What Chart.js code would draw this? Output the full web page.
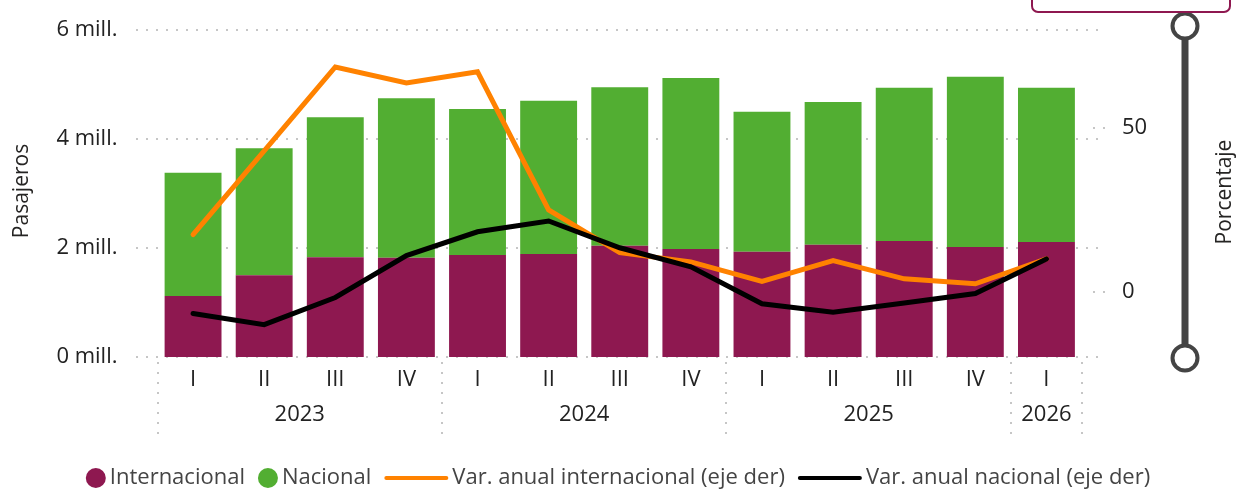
<!DOCTYPE html>
<html><head><meta charset="utf-8">
<script src="https://cdn.jsdelivr.net/npm/chart.js@4.4.1/dist/chart.umd.min.js"></script>
<style>html,body{margin:0;padding:0;background:#fff;overflow:hidden}</style>
</head><body>
<canvas id="c" width="1236" height="490"></canvas>
<script>
// ---- data ----
const quarters = ['I','II','III','IV','I','II','III','IV','I','II','III','IV','I'];
const years    = ['2023','2023','2023','2023','2024','2024','2024','2024','2025','2025','2025','2025','2026'];
const internacional = [1.12,1.50,1.83,1.82,1.87,1.89,2.04,1.98,1.93,2.06,2.13,2.02,2.11]; // millones
const nacional      = [2.26,2.33,2.57,2.93,2.68,2.81,2.91,3.14,2.57,2.62,2.81,3.12,2.83]; // millones
const varInternacional = [17.4,43.0,68.7,63.8,67.2,25.0,11.9,9.1,3.1,9.5,3.9,2.4,10.0];
const varNacional      = [-6.7,-10.1,-1.8,11.0,18.3,21.6,13.4,7.6,-3.7,-6.3,-3.5,-0.6,10.0];
const leftTicks  = [0,2,4,6];
const rightTicks = [0,50];
const seriesNames = ['Internacional','Nacional','Var. anual internacional (eje der)','Var. anual nacional (eje der)'];
const leftTitle = 'Pasajeros';
const rightTitle = 'Porcentaje';

const FONT = '"Open Sans", "Noto Sans", sans-serif';
const C_INT = '#8E1850', C_NAC = '#52AE32', C_OR = '#FF8200', C_BL = '#000000';
Chart.defaults.font.family = FONT;

const decor = {
  id: 'decor',
  beforeDatasetsDraw(chart) {
    const {ctx, chartArea: a, scales: {x, y, y2}} = chart;
    ctx.save();
    ctx.strokeStyle = '#c6c6c6'; ctx.lineWidth = 2; ctx.setLineDash([2, 8]);
    leftTicks.forEach(v => {
      const py = Math.round(y.getPixelForValue(v));
      ctx.beginPath(); ctx.moveTo(136, py); ctx.lineTo(1100, py); ctx.stroke();
    });
    rightTicks.forEach(v => {
      const py = Math.round(y2.getPixelForValue(v));
      ctx.beginPath(); ctx.moveTo(a.right + 11, py); ctx.lineTo(a.right + 24, py); ctx.stroke();
    });
    // vertical separators between years
    const bx = [x.left];
    for (let i = 1; i < years.length; i++) {
      if (years[i] !== years[i-1]) bx.push((x.getPixelForValue(i-1) + x.getPixelForValue(i)) / 2);
    }
    bx.push(x.right);
    bx.forEach(px => {
      ctx.beginPath(); ctx.moveTo(Math.round(px), a.bottom + 5); ctx.lineTo(Math.round(px), a.bottom + 80); ctx.stroke();
    });
    ctx.restore();
  },
  afterDraw(chart) {
    const {ctx, chartArea: a, scales: {x}} = chart;
    ctx.save();
    // year labels
    ctx.fillStyle = '#222'; ctx.font = '22px ' + FONT; ctx.textAlign = 'center'; ctx.textBaseline = 'middle';
    let start = 0;
    for (let i = 1; i <= years.length; i++) {
      if (i === years.length || years[i] !== years[start]) {
        const cx = (x.getPixelForValue(start) + x.getPixelForValue(i-1)) / 2;
        ctx.fillText(years[start], cx, 415);
        start = i;
      }
    }
    // axis titles
    ctx.fillStyle = '#252423'; ctx.font = '21px ' + FONT;
    ctx.save(); ctx.translate(22, 191); ctx.rotate(-Math.PI/2); ctx.fillText(leftTitle, 0, 0); ctx.restore();
    ctx.save(); ctx.translate(1225, 192); ctx.rotate(-Math.PI/2); ctx.fillText(rightTitle, 0, 0); ctx.restore();
    // legend
    ctx.font = '22px ' + FONT; ctx.textAlign = 'left'; ctx.textBaseline = 'middle';
    const items = chart.data.datasets.map(d => ({label: d.label, color: d.type === 'line' ? d.borderColor : d.backgroundColor, line: d.type === 'line'}));
    const gap = 13, tg = 4;
    let total = 0;
    items.forEach((it, i) => { it.w = ctx.measureText(it.label).width; it.mw = it.line ? 64 : 20; total += it.mw + tg + it.w + (i ? gap : 0); });
    let lx = (1236 - total) / 2; const ly = 478;
    items.forEach((it, i) => {
      if (i) lx += gap;
      if (it.line) {
        ctx.strokeStyle = it.color; ctx.lineWidth = 4; ctx.lineCap = 'round';
        ctx.beginPath(); ctx.moveTo(lx + 2, ly); ctx.lineTo(lx + it.mw - 2, ly); ctx.stroke();
      } else {
        ctx.fillStyle = it.color; ctx.beginPath(); ctx.arc(lx + 10, ly, 10, 0, Math.PI*2); ctx.fill();
      }
      lx += it.mw + tg;
      ctx.fillStyle = '#444'; ctx.fillText(it.label, lx, ly);
      lx += it.w;
    });
    // slider at right
    ctx.strokeStyle = '#444'; ctx.lineWidth = 7; ctx.lineCap = 'butt';
    ctx.beginPath(); ctx.moveTo(1185, 30); ctx.lineTo(1185, 354); ctx.stroke();
    [26, 358].forEach(cy => {
      ctx.beginPath(); ctx.arc(1185, cy, 12.5, 0, Math.PI*2);
      ctx.fillStyle = '#fff'; ctx.fill(); ctx.lineWidth = 4; ctx.stroke();
    });
    // framed box at top right (partially visible)
    ctx.strokeStyle = C_INT; ctx.lineWidth = 2;
    ctx.beginPath(); ctx.roundRect(1032, -20, 198, 32, 6); ctx.stroke();
    ctx.restore();
  }
};

new Chart(document.getElementById('c'), {
  data: {
    labels: quarters,
    datasets: [
      {type:'bar', label: seriesNames[0], data: internacional, backgroundColor: C_INT, yAxisID:'y', order: 2, categoryPercentage: 1, barPercentage: 0.8},
      {type:'bar', label: seriesNames[1], data: nacional, backgroundColor: C_NAC, yAxisID:'y', order: 2, categoryPercentage: 1, barPercentage: 0.8},
      {type:'line', label: seriesNames[2], data: varInternacional, borderColor: C_OR, backgroundColor: C_OR, borderWidth: 5, pointRadius: 0, yAxisID:'y2', order: 1, borderCapStyle:'round', borderJoinStyle:'miter', tension: 0},
      {type:'line', label: seriesNames[3], data: varNacional, borderColor: C_BL, backgroundColor: C_BL, borderWidth: 5, pointRadius: 0, yAxisID:'y2', order: 0, borderCapStyle:'round', borderJoinStyle:'miter', tension: 0}
    ]
  },
  options: {
    responsive: false, animation: false, devicePixelRatio: 1,
    layout: {padding: {top: 30, left: 0, right: 0, bottom: 0}},
    plugins: {legend: {display: false}, tooltip: {enabled: false}},
    scales: {
      x: {type:'category', stacked: true, offset: true,
          grid: {display: false, drawTicks: false}, border: {display: false},
          ticks: {color:'#222', font:{size:22}, padding: 10, maxRotation: 0, autoSkip: false},
          afterFit(s) { s.height = 133; s.paddingLeft = 0; s.paddingRight = 0; }},
      y: {position:'left', stacked: true, min: 0, max: 6,
          afterBuildTicks(s) { s.ticks = leftTicks.map(v => ({value: v})); },
          grid: {display: false, drawTicks: false}, border: {display: false},
          ticks: {color:'#222', font:{size:22}, padding: 40, callback: v => v + ' mill.'},
          afterFit(s) { s.width = 157.5; s.paddingTop = 0; s.paddingBottom = 0; }},
      y2: {position:'right', min: -20, max: 80,
          afterBuildTicks(s) { s.ticks = rightTicks.map(v => ({value: v})); },
          grid: {display: false, drawTicks: false}, border: {display: false},
          ticks: {color:'#222', font:{size:22}, padding: 40, callback: v => String(v)},
          afterFit(s) { s.width = 1236 - 1082; s.paddingTop = 0; s.paddingBottom = 0; }}
    }
  },
  plugins: [decor]
});
</script>
</body></html>
